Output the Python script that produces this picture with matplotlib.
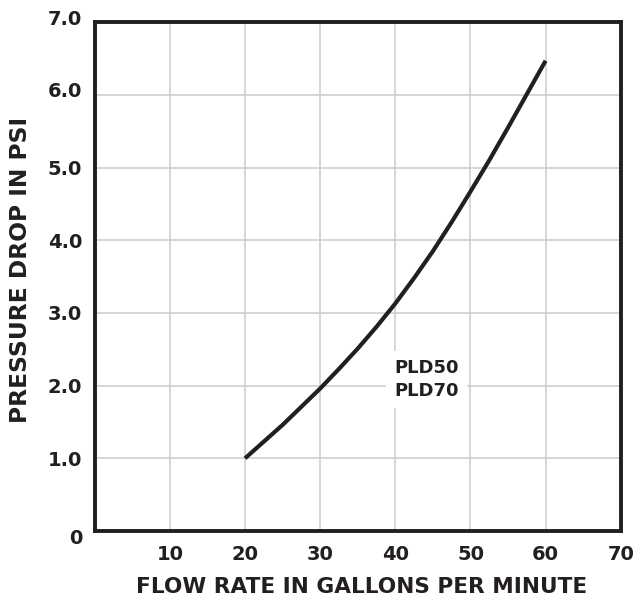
import matplotlib.pyplot as plt
from matplotlib.transforms import ScaledTranslation

# pressure drop curve
flow_gpm = [20, 22.5, 25, 27.5, 30, 32.5, 35, 37.5, 40, 42.5, 45, 47.5, 50, 52.5, 55, 57.5, 60]
pressure_psi = [1.0, 1.23, 1.46, 1.71, 1.96, 2.23, 2.51, 2.81, 3.13, 3.48, 3.85, 4.25,
                4.67, 5.1, 5.55, 6.01, 6.47]

x_ticks = [10, 20, 30, 40, 50, 60, 70]
y_ticks = [0, 1, 2, 3, 4, 5, 6, 7]
y_tick_labels = ['0', '1.0', '2.0', '3.0', '4.0', '5.0', '6.0', '7.0']

ink = '#231f20'
plt.rcParams['font.family'] = ['DejaVu Sans']
plt.rcParams['font.weight'] = 'bold'

fig = plt.figure(figsize=(6.36, 6.0), dpi=100)
ax = fig.add_axes([0.149, 0.115, 0.827, 0.848])

ax.plot(flow_gpm, pressure_psi, color=ink, linewidth=3.0, solid_capstyle='butt', zorder=3)

ax.set_xlim(0, 70)
ax.set_ylim(0, 7)
ax.set_xticks(x_ticks)
ax.set_yticks(y_ticks)
ax.set_yticklabels(y_tick_labels)
ax.tick_params(length=0, labelsize=14, colors=ink)
ax.tick_params(axis='x', pad=10)
ax.tick_params(axis='y', pad=9)
for lab in ax.get_xticklabels() + ax.get_yticklabels():
    lab.set_fontweight('bold')

# the printed chart nudges a few y labels off their lines
nudge = {'0': -6, '6.0': 5, '7.0': 5}
for lab in ax.get_yticklabels():
    dy = nudge.get(lab.get_text(), 0)
    if dy:
        lab.set_transform(lab.get_transform() + ScaledTranslation(0, dy / 100, fig.dpi_scale_trans))

ax.grid(True, color='#cccccc', linewidth=1.1, zorder=0)
ax.set_axisbelow(True)
for sp in ax.spines.values():
    sp.set_color(ink)
    sp.set_linewidth(2.8)
    sp.set_zorder(4)

ax.text(44.1, 2.09, 'PLD50\nPLD70', ha='center', va='center', fontsize=13,
        fontweight='bold', color=ink, linespacing=1.35, zorder=2,
        bbox=dict(boxstyle='square,pad=0.45', facecolor='white', edgecolor='none'))

fig.text(362 / 636, 1 - 587 / 600, 'FLOW RATE IN GALLONS PER MINUTE', ha='center',
         va='center', fontsize=15.6, fontweight='bold', color=ink)
fig.text(21 / 636, 1 - 270 / 600, 'PRESSURE DROP IN PSI', ha='center', va='center',
         rotation=90, fontsize=16.8, fontweight='bold', color=ink)

fig.savefig('out.png', dpi=100)
